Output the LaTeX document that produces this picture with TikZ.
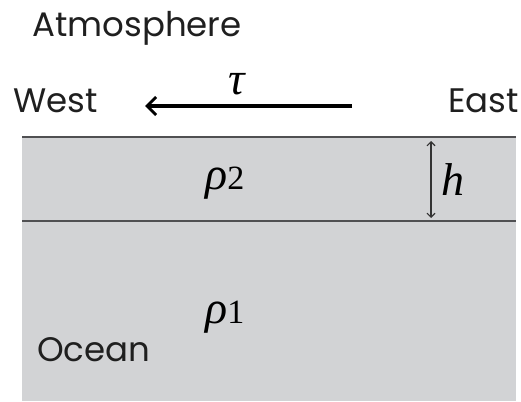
\documentclass[tikz,border=0pt]{standalone}
\usepackage{fontspec}
\setmainfont{Poppins}
\newfontfamily\symfont{Liberation Serif}
\usetikzlibrary{positioning,arrows.meta}
\definecolor{oceangray}{RGB}{210,211,213}
\definecolor{linegray}{RGB}{80,80,82}

\begin{document}
\begin{tikzpicture}[x=1pt, y=-1pt,
    word/.style={font=\fontsize{34}{36}\selectfont, inner sep=0pt, anchor=base west, text=black!88},
    sym/.style={font=\symfont\itshape\fontsize{46}{48}\selectfont, inner sep=0pt},
    layer/.style={fill=oceangray, draw=none},
    interface/.style={draw=linegray, line width=2pt},
    arrow/.style={-{Straight Barb[length=9pt,width=18pt,line width=3pt]}, line width=3.2pt},
    thinarrow/.style={{Straight Barb[length=4pt,width=8pt]}-{Straight Barb[length=4pt,width=8pt]}, line width=1.1pt, draw=black!80},
]
\useasboundingbox (0,0) rectangle (521,401);

% === OCEAN ===
\fill[layer] (22,137) rectangle (516,401);
\coordinate (surfL) at (22,137);
\coordinate (surfR) at (516,137);
\coordinate (intL) at (22,221);
\coordinate (intR) at (516,221);
\draw[interface] (surfL) -- (surfR);
\draw[interface] (intL) -- (intR);

% === LABELS ===
\node[word] (atmos) at (32,37) {Atmosphere};
\node[word] (west) at (13,113) {West};
\node[word] (east) at (448,113) {East};
\node[word] (ocean) at (37,361) {Ocean};

% === SYMBOLS ===
\node[sym] (tau) at (237,84) {τ};
\node[sym, anchor=base west] (rho2) at (205,189) {ρ{\upshape\fontsize{34}{34}\selectfont 2}};
\node[sym, anchor=base west] (rho1) at (205,323) {ρ{\upshape\fontsize{34}{34}\selectfont 1}};
\node[sym, anchor=base west] (hlab) at (441,195) {h};

% === ARROWS ===
\coordinate (windE) at (352,106);
\coordinate (windW) at (145,106);
\draw[arrow] (windE) -- (windW);
\coordinate (htop) at (431,141);
\coordinate (hbot) at (431,218);
\draw[thinarrow] (htop) -- (hbot);

\end{tikzpicture}
\end{document}
